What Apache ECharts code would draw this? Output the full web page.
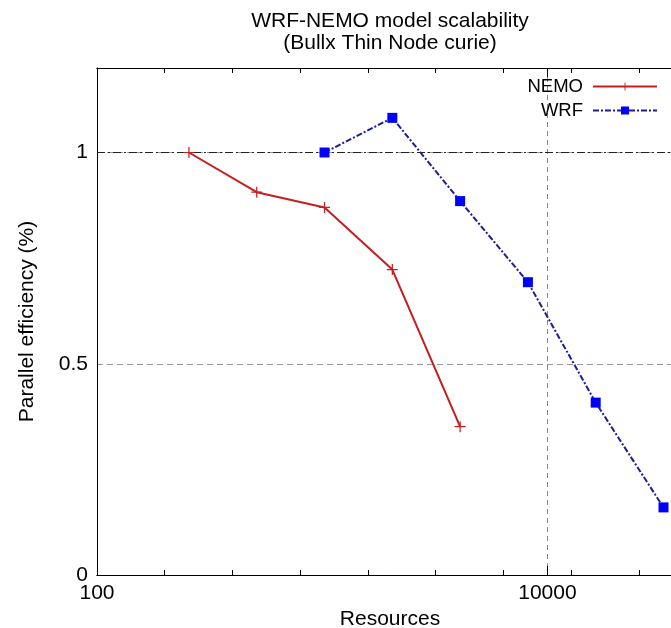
<!DOCTYPE html>
<html>
<head>
<meta charset="utf-8">
<script src="https://cdn.jsdelivr.net/npm/echarts@6/dist/echarts.min.js"></script>
<style>
  html, body { margin: 0; padding: 0; background: #fff; }
  #chart { width: 671px; height: 628px; }
</style>
</head>
<body>
<div id="chart"></div>
<script>
// Data
const nemoResources = [256, 512, 1024, 2048, 4096];
const nemoEfficiency = [1.0, 0.906, 0.870, 0.723, 0.351];

const wrfResources = [1024, 2048, 4096, 8192, 16384, 32768];
const wrfEfficiency = [1.0, 1.082, 0.885, 0.693, 0.408, 0.160];

const yTickLabels = ['0', '0.5', '1'];
const xTickLabels = ['100', '10000'];

const xMin = 100;
const xMax = 40000;

const FONT = 'Liberation Sans, Arial, sans-serif';

function pairs(xs, ys) {
    return xs.map((x, i) => [x, ys[i]]);
}

const chart = echarts.init(document.getElementById('chart'));

const plusSymbol = 'path://M4.45,0H5.55V4.45H10V5.55H5.55V10H4.45V5.55H0V4.45H4.45Z';

// minor ticks at 100*2^k, drawn on bottom and top
const minorAxis = (pos) => ({
    type: 'log',
    logBase: 2,
    min: xMin,
    max: xMax,
    interval: 1,
    position: pos,
    gridIndex: 0,
    axisLine: { show: true, lineStyle: { color: '#000', width: 1 } },
    axisTick: { show: true, inside: true, length: 5, lineStyle: { color: '#000' } },
    axisLabel: { show: false },
    splitLine: { show: false },
    silent: true
});

const option = {
    animation: false,
    title: {
        text: 'WRF-NEMO model scalability\n(Bullx Thin Node curie)',
        left: 385,
        top: 5,
        textAlign: 'center',
        textStyle: {
            fontFamily: FONT,
            fontSize: 21,
            fontWeight: 'normal',
            color: '#000',
            lineHeight: 22
        }
    },
    legend: {
        data: ['NEMO', 'WRF'],
        orient: 'vertical',
        align: 'right',
        right: 8,
        top: 72,
        itemWidth: 64,
        itemHeight: 10,
        itemGap: 5,
        textStyle: { fontFamily: FONT, fontSize: 18.5, color: '#000', padding: [0, 5, 0, 0] }
    },
    grid: {
        left: 97,
        width: 586,
        top: 68,
        bottom: 53,
        containLabel: false,
        outerBoundsMode: 'none'
    },
    xAxis: [
        {
            type: 'log',
            logBase: 100,
            min: xMin,
            max: xMax,
            interval: 1,
            position: 'bottom',
            name: 'Resources',
            nameLocation: 'middle',
            nameGap: 33,
            nameTextStyle: { fontFamily: FONT, fontSize: 21, color: '#000' },
            axisLine: { show: true, lineStyle: { color: '#000', width: 1 } },
            axisTick: { show: true, inside: true, length: 9, lineStyle: { color: '#000' } },
            axisLabel: {
                fontFamily: FONT, fontSize: 21, color: '#000', margin: 8,
                formatter: (v) => {
                    const i = Math.round(Math.log(v) / Math.log(100)) - 1;
                    return Math.abs(v - Math.pow(100, i + 1)) < 1 && xTickLabels[i] !== undefined ? xTickLabels[i] : '';
                }
            },
            splitLine: { show: true, lineStyle: { color: '#888', type: [5, 4], width: 1 } }
        },
        {
            type: 'log',
            logBase: 100,
            min: xMin,
            max: xMax,
            interval: 1,
            position: 'top',
            axisLine: { show: true, lineStyle: { color: '#000', width: 1 } },
            axisTick: { show: true, inside: true, length: 9, lineStyle: { color: '#000' } },
            axisLabel: { show: false },
            splitLine: { show: false }
        },
        minorAxis('bottom'),
        minorAxis('top')
    ],
    yAxis: {
        type: 'value',
        min: 0,
        max: 1.2,
        interval: 0.5,
        name: 'Parallel efficiency (%)',
        nameLocation: 'middle',
        nameRotate: 90,
        nameGap: 59,
        nameTextStyle: { fontFamily: FONT, fontSize: 21, color: '#000' },
        axisLine: { show: true, lineStyle: { color: '#000', width: 1 } },
        axisTick: { show: false },
        axisLabel: {
            fontFamily: FONT, fontSize: 21, color: '#000', margin: 9,
            showMaxLabel: false,
            formatter: (v) => {
                const i = Math.round(v / 0.5);
                return Math.abs(v - i * 0.5) < 1e-6 && yTickLabels[i] !== undefined ? yTickLabels[i] : '';
            }
        },
        splitLine: { show: true, lineStyle: { color: '#999', type: [6, 4], width: 1 } }
    },
    series: [
        {
            name: 'NEMO',
            type: 'line',
            xAxisIndex: 0,
            data: pairs(nemoResources, nemoEfficiency),
            symbol: plusSymbol,
            symbolSize: 11,
            lineStyle: { color: '#c41e1e', width: 2 },
            itemStyle: { color: '#c41e1e' },
            markLine: {
                silent: true,
                symbol: 'none',
                label: { show: false },
                lineStyle: { color: '#222', type: [8, 3, 2, 3], width: 1 },
                data: [{ yAxis: 1 }],
                z: 1
            },
            z: 3
        },
        {
            name: 'WRF',
            type: 'line',
            xAxisIndex: 0,
            data: pairs(wrfResources, wrfEfficiency),
            symbol: 'rect',
            symbolSize: 10,
            lineStyle: { color: '#1c1c96', width: 2, type: [6, 2, 2, 2] },
            itemStyle: { color: '#0000ff' },
            z: 3
        }
    ]
};

chart.setOption(option);
</script>
</body>
</html>
